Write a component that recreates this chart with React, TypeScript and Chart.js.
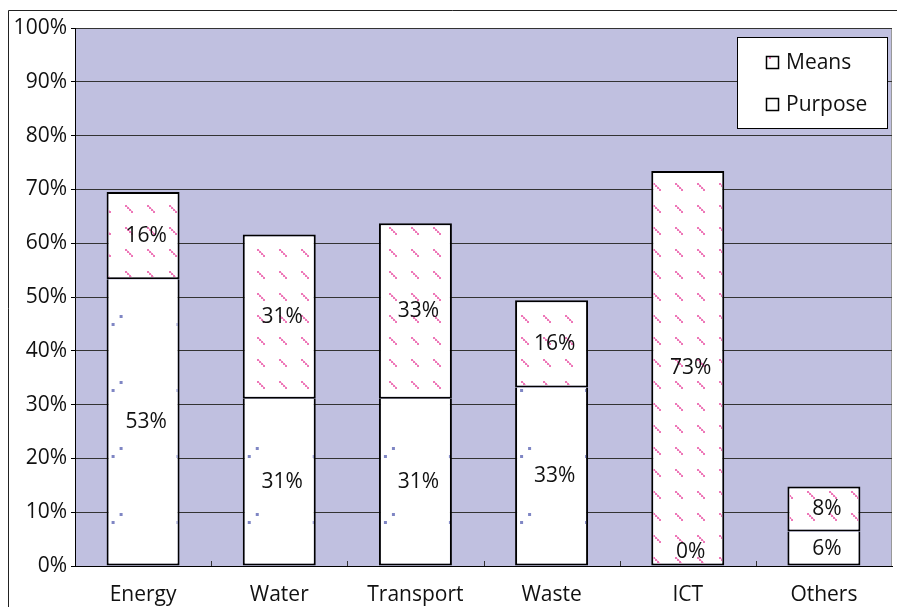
import React, { useEffect, useRef } from "react";
import { Chart, registerables } from "chart.js";

Chart.register(...registerables);

const categories = ["Energy", "Water", "Transport", "Waste", "ICT", "Others"];
const purposeValues = [53.3, 31.1, 31.1, 33.2, 0, 6.4];
const meansValues = [16.2, 30.5, 32.6, 16.2, 73.4, 8.4];
const yTickValues = [0, 10, 20, 30, 40, 50, 60, 70, 80, 90, 100];
const legendLabels = ["Means", "Purpose"];

const FONT_FAMILY = "'Open Sans', 'Noto Sans', sans-serif";
const FONT_SIZE = 21;
const PLOT_BG = "#C0C0E0";
const PINK = "#EE78B8";
const DOT_BLUE = "#7F86C4";

function makePinkPattern(ctx: CanvasRenderingContext2D): CanvasPattern | null {
  const c = document.createElement("canvas");
  c.width = 22;
  c.height = 22;
  const g = c.getContext("2d")!;
  g.fillStyle = PINK;
  const offs = [0, 2, 4, 6];
  offs.forEach((o) => g.fillRect(o, o, 2, 2));
  g.globalAlpha = 0.45;
  offs.slice(0, 3).forEach((o) => g.fillRect(o + 2, o + 1, 1, 1));
  return ctx.createPattern(c, "repeat");
}

export default function App() {
  const ref = useRef<HTMLCanvasElement | null>(null);

  useEffect(() => {
    const canvas = ref.current;
    if (!canvas) return;
    const ctx0 = canvas.getContext("2d")!;
    const pink = makePinkPattern(ctx0);

    const fillPink = (ctx: CanvasRenderingContext2D, x: number, y: number, w: number, h: number) => {
      if (!pink) return;
      ctx.save();
      ctx.beginPath();
      ctx.rect(x, y, w, h);
      ctx.clip();
      ctx.translate(15, 7);
      ctx.fillStyle = pink;
      ctx.fillRect(x - 15, y - 7, w, h);
      ctx.restore();
    };

    const bgPlugin = {
      id: "bgFrame",
      beforeDraw(chart: any) {
        const { ctx, chartArea: a } = chart;
        ctx.save();
        ctx.fillStyle = "#fff";
        ctx.fillRect(0, 0, chart.width, chart.height);
        ctx.fillStyle = PLOT_BG;
        ctx.fillRect(a.left, a.top, a.right - a.left, a.bottom - a.top);
        ctx.strokeStyle = "#999";
        ctx.lineWidth = 1;
        ctx.beginPath();
        ctx.moveTo(a.right - 0.5, a.top);
        ctx.lineTo(a.right - 0.5, a.bottom);
        ctx.stroke();
        ctx.strokeStyle = "#222";
        ctx.beginPath();
        ctx.moveTo(8.5, chart.height);
        ctx.lineTo(8.5, 10.5);
        ctx.lineTo(chart.width, 10.5);
        ctx.stroke();
        ctx.restore();
      },
    };

    const overlayPlugin = {
      id: "overlay",
      afterDatasetsDraw(chart: any) {
        const { ctx, chartArea: a } = chart;
        const font = `${FONT_SIZE}px ${FONT_FAMILY}`;
        chart.data.datasets.forEach((ds: any, di: number) => {
          const meta = chart.getDatasetMeta(di);
          meta.data.forEach((bar: any) => {
            const left = bar.x - bar.width / 2;
            const top = Math.min(bar.y, bar.base);
            const bottom = Math.max(bar.y, bar.base);
            const bw = 2;
            const ix = left + bw;
            const iy = top + (di === 1 ? bw : 0);
            const iw = bar.width - 2 * bw;
            const ih = bottom - iy - bw;
            if (ih <= 0) return;
            if (di === 1) {
              fillPink(ctx, ix, iy, iw, ih);
            } else {
              ctx.save();
              ctx.beginPath();
              ctx.rect(ix, iy, iw, ih);
              ctx.clip();
              ctx.fillStyle = DOT_BLUE;
              for (let y = 390 - 66 * 6; y < 620; y += 66) {
                ctx.fillRect(left + 5, y - 1, 3, 3);
                ctx.fillRect(left + 13, y - 9, 3, 3);
                ctx.fillRect(left + 70, y - 1, 3, 3);
              }
              ctx.restore();
            }
          });
        });
        ctx.save();
        ctx.font = font;
        ctx.fillStyle = "#111";
        ctx.textAlign = "center";
        ctx.textBaseline = "middle";
        chart.data.datasets.forEach((ds: any, di: number) => {
          const meta = chart.getDatasetMeta(di);
          meta.data.forEach((bar: any, i: number) => {
            const v = ds.data[i];
            let y = (bar.y + bar.base) / 2;
            y = Math.min(y, a.bottom - 14);
            ctx.fillText(`${Math.round(v)}%`, bar.x + 3, y);
          });
        });
        ctx.restore();
        const xs = chart.scales.x;
        ctx.save();
        ctx.strokeStyle = "#333";
        ctx.lineWidth = 1;
        for (let i = 1; i < categories.length; i++) {
          const x = Math.round((xs.getPixelForValue(i - 1) + xs.getPixelForValue(i)) / 2) + 0.5;
          ctx.beginPath();
          ctx.moveTo(x, a.bottom);
          ctx.lineTo(x, a.bottom - 5);
          ctx.stroke();
        }
        ctx.restore();
        ctx.save();
        const lx = 737, ly = 37, lw = 150, lh = 91;
        ctx.fillStyle = "#fff";
        ctx.fillRect(lx, ly, lw, lh);
        ctx.strokeStyle = "#000";
        ctx.lineWidth = 1;
        ctx.strokeRect(lx + 0.5, ly + 0.5, lw, lh);
        const rows = [62, 104];
        legendLabels.forEach((lab, k) => {
          const cy = rows[k];
          const bx = 766, by = cy - 6, bs = 12;
          ctx.fillStyle = "#fff";
          ctx.fillRect(bx, by, bs, bs);
          if (k === 0) fillPink(ctx, bx, by, bs, bs);
          ctx.strokeStyle = "#000";
          ctx.lineWidth = 1.5;
          ctx.strokeRect(bx + 0.5, by + 0.5, bs, bs);
          ctx.fillStyle = "#111";
          ctx.font = font;
          ctx.textAlign = "left";
          ctx.textBaseline = "middle";
          ctx.fillText(lab, 786, cy + 1);
        });
        ctx.restore();
      },
    };

    const tickFont = { family: FONT_FAMILY, size: FONT_SIZE };

    const chart = new Chart(canvas, {
      type: "bar",
      data: {
        labels: categories,
        datasets: [
          {
            label: "Purpose",
            data: purposeValues,
            backgroundColor: "#fff",
            borderColor: "#000",
            borderWidth: 2,
            borderSkipped: "end",
            barPercentage: 0.536,
            categoryPercentage: 1,
            stack: "s",
          },
          {
            label: "Means",
            data: meansValues,
            backgroundColor: "#fff",
            borderColor: "#000",
            borderWidth: 2,
            borderSkipped: false,
            barPercentage: 0.536,
            categoryPercentage: 1,
            stack: "s",
          },
        ],
      },
      options: {
        animation: false,
        responsive: true,
        maintainAspectRatio: false,
        layout: { padding: { left: 0, right: 5, top: 28, bottom: 0 } },
        plugins: { legend: { display: false }, tooltip: { enabled: false } },
        scales: {
          x: {
            stacked: true,
            grid: { display: false },
            border: { color: "#000", width: 1 },
            ticks: { font: tickFont, color: "#111", padding: 8 },
            afterFit(s: any) {
              s.height = 41;
            },
          },
          y: {
            stacked: true,
            min: 0,
            max: 100,
            afterBuildTicks(s: any) {
              s.ticks = yTickValues.map((v) => ({ value: v }));
            },
            ticks: {
              font: tickFont,
              color: "#111",
              padding: 4,
              callback: (v: any) => `${v}%`,
            },
            grid: { color: "#333", lineWidth: 1, tickLength: 4, tickColor: "#000", drawTicks: true },
            border: { color: "#000", width: 1 },
            afterFit(s: any) {
              s.width = 75;
            },
          },
        },
      },
      plugins: [bgPlugin, overlayPlugin],
    } as any);

    return () => chart.destroy();
  }, []);

  return (
    <div style={{ position: "fixed", left: 0, top: 0, width: 897, height: 607 }}>
      <canvas ref={ref} />
    </div>
  );
}
